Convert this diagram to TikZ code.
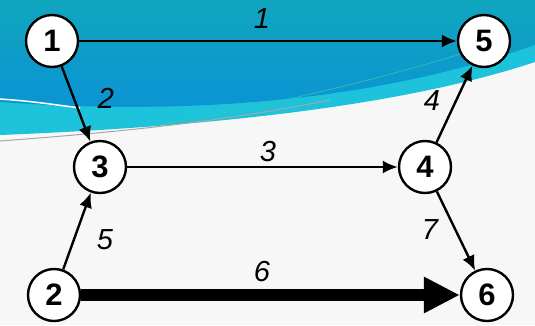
\documentclass[tikz,border=0pt]{standalone}
\usepackage{fontspec}
\setmainfont{Liberation Sans}
\usetikzlibrary{arrows.meta}
\definecolor{bgw}{HTML}{F7F7F7}
\definecolor{tealtop}{HTML}{10A6BE}
\definecolor{bluemid}{HTML}{0A92D6}
\definecolor{cyanband}{HTML}{1CC3DA}
\definecolor{streak}{HTML}{3FC8A8}
\begin{document}
\begin{tikzpicture}[x=1pt,y={(0,-1pt)},
  vtx/.style={circle,draw=black,fill=white,line width=2.4pt,minimum size=52pt,inner sep=0pt,font=\fontsize{31}{31}\selectfont\bfseries},
  arc/.style={line width=2.4pt,-{Latex[length=15pt,width=13pt]}},
  bigarc/.style={line width=12pt,-{Triangle[length=36pt,width=34pt]}},
  lab/.style={font=\fontsize{29}{29}\selectfont\itshape}]
\useasboundingbox (0,0) rectangle (535,325);
\fill[bgw] (0,0) rectangle (535,325);
\fill[cyanband] (0,0) -- (535,0) -- (535,62) .. controls (420,100) and (250,125) .. (0,135) -- cycle;
\shade[top color=tealtop,bottom color=bluemid] (0,0) -- (535,0) -- (535,45) .. controls (420,85) and (250,120) .. (0,102) -- cycle;
\draw[gray!70,line width=1pt] (0,141) .. controls (120,132) and (220,122) .. (330,100);
\draw[white,line width=1.5pt] (0,99) .. controls (30,101) and (50,104) .. (80,108);
\draw[streak,line width=0.8pt,opacity=0.7] (150,126) .. controls (250,110) and (380,80) .. (480,48);

\node[vtx] (n1) at (52,41) {1};
\node[vtx] (n5) at (484,41) {5};
\node[vtx] (n3) at (100,167) {3};
\node[vtx] (n4) at (425,167) {4};
\node[vtx] (n2) at (54,295) {2};
\node[vtx] (n6) at (487,295) {6};

\draw[arc] (n1) -- (n5);
\draw[arc] (n1) -- (n3);
\draw[arc] (n3) -- (n4);
\draw[arc] (n4) -- (n5);
\draw[arc] (n2) -- (n3);
\draw[arc] (n4) -- (n6);
\draw[bigarc] (n2) -- (n6);

\node[lab] (l1) at (262,19) {1};
\node[lab] (l2) at (106,98) {2};
\node[lab] (l3) at (268,152) {3};
\node[lab] (l4) at (432,101) {4};
\node[lab] (l5) at (105,240) {5};
\node[lab] (l6) at (262,272) {6};
\node[lab] (l7) at (430,230) {7};
\end{tikzpicture}
\end{document}
